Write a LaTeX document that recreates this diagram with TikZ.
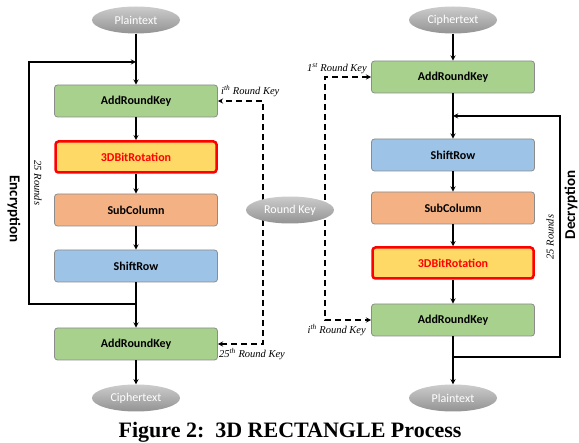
\documentclass[tikz,border=0pt]{standalone}
\usepackage{fontspec}
\setmainfont{Liberation Serif}
\setsansfont{Carlito}
\usetikzlibrary{shapes.geometric, arrows, backgrounds}
\definecolor{keygreen}{HTML}{A9D18E}
\definecolor{rotyellow}{HTML}{FFD966}
\definecolor{suborange}{HTML}{F4B183}
\definecolor{shiftblue}{HTML}{9DC3E6}
\tikzstyle{stage} = [rectangle, rounded corners=3pt, draw=black!45, line width=0.8pt, minimum width=163pt, minimum height=32pt, text centered, font=\sffamily\bfseries\fontsize{12}{14}\selectfont]
\tikzstyle{rotstage} = [stage, draw=red, line width=2.5pt, fill=rotyellow, text=red, minimum width=161pt, minimum height=31pt]
\tikzstyle{textnode} = [ellipse, top color=gray!40, bottom color=gray!85, minimum width=88pt, minimum height=27pt, text=white, font=\sffamily\fontsize{12}{14}\selectfont]
\tikzstyle{note} = [inner sep=0pt, font=\itshape\fontsize{10.5}{12}\selectfont]
\tikzstyle{arrow} = [line width=1.3pt, ->, >=stealth]
\tikzstyle{keyarrow} = [line width=1.3pt, dash pattern=on 6pt off 4pt, ->, >=stealth]

\begin{document}
\begin{tikzpicture}[x=1pt, y=-1pt,
sidelabel/.style={font=\sffamily\bfseries\fontsize{15}{17}\selectfont}
]
\useasboundingbox (0,0) rectangle (579,443);

\node (plainin) [textnode] at (136,20) {Plaintext};
\node (arkA) [stage, fill=keygreen] at (136,101) {AddRoundKey};
\node (bitrotA) [rotstage] at (136,157) {3DBitRotation};
\node (subcolA) [stage, fill=suborange] at (136,210) {SubColumn};
\node (shiftA) [stage, fill=shiftblue] at (136,266) {ShiftRow};
\node (arkB) [stage, fill=keygreen] at (136,344) {AddRoundKey};
\node (cipherout) [textnode] at (136,398) {Ciphertext};

\node (roundkey) [textnode] at (290,210) {Round Key};

\node (cipherin) [textnode] at (453,20) {Ciphertext};
\node (arkC) [stage, fill=keygreen] at (453,77) {AddRoundKey};
\node (shiftB) [stage, fill=shiftblue] at (453,155) {ShiftRow};
\node (subcolB) [stage, fill=suborange] at (453,208) {SubColumn};
\node (bitrotB) [rotstage] at (453,263) {3DBitRotation};
\node (arkD) [stage, fill=keygreen] at (453,320) {AddRoundKey};
\node (plainout) [textnode] at (453,398) {Plaintext};

\coordinate (encsplit) at (136,304);
\coordinate (encjoin) at (136,62);
\coordinate (decsplit) at (453,357);
\coordinate (decjoin) at (453,116);

\draw [arrow] (plainin) -- (arkA);
\draw [arrow] (arkA) -- (bitrotA);
\draw [arrow] (bitrotA) -- (subcolA);
\draw [arrow] (subcolA) -- (shiftA);
\draw [arrow] (shiftA) -- (arkB);
\draw [arrow] (arkB) -- (cipherout);
\draw [arrow] (encsplit) -| (29,62) -- (encjoin);

\draw [arrow] (cipherin) -- (arkC);
\draw [arrow] (arkC) -- (shiftB);
\draw [arrow] (shiftB) -- (subcolB);
\draw [arrow] (subcolB) -- (bitrotB);
\draw [arrow] (bitrotB) -- (arkD);
\draw [arrow] (arkD) -- (plainout);
\draw [arrow] (decsplit) -| (560,116) -- (decjoin);

\begin{scope}[on background layer]
\draw [keyarrow] ([xshift=-27pt]roundkey.center) |- (arkA.east);
\draw [keyarrow] ([xshift=-27pt]roundkey.center) |- (arkB.east);
\draw [keyarrow] ([xshift=35pt]roundkey.center) |- (arkC.west);
\draw [keyarrow] ([xshift=35pt]roundkey.center) |- (arkD.west);
\end{scope}

\node (keyA) [note, anchor=west] at (221,91) {i\textsuperscript{th} Round Key};
\node (keyB) [note, anchor=west] at (219,354) {25\textsuperscript{th} Round Key};
\node (keyC) [note, anchor=east] at (367,69) {1\textsuperscript{st} Round Key};
\node (keyD) [note, anchor=east] at (366,330) {i\textsuperscript{th} Round Key};

\node (enclabel) [sidelabel, rotate=-90] at (14,209) {Encryption};
\node (encrounds) [note, rotate=-90] at (38,183) {25 Rounds};
\node (declabel) [sidelabel, rotate=90] at (571,205) {Decryption};
\node (decrounds) [note, rotate=90] at (550,237) {25 Rounds};

\node (caption) [font=\bfseries\fontsize{22}{25}\selectfont] at (290,432) {Figure 2:\ \ 3D RECTANGLE Process};
\end{tikzpicture}
\end{document}
